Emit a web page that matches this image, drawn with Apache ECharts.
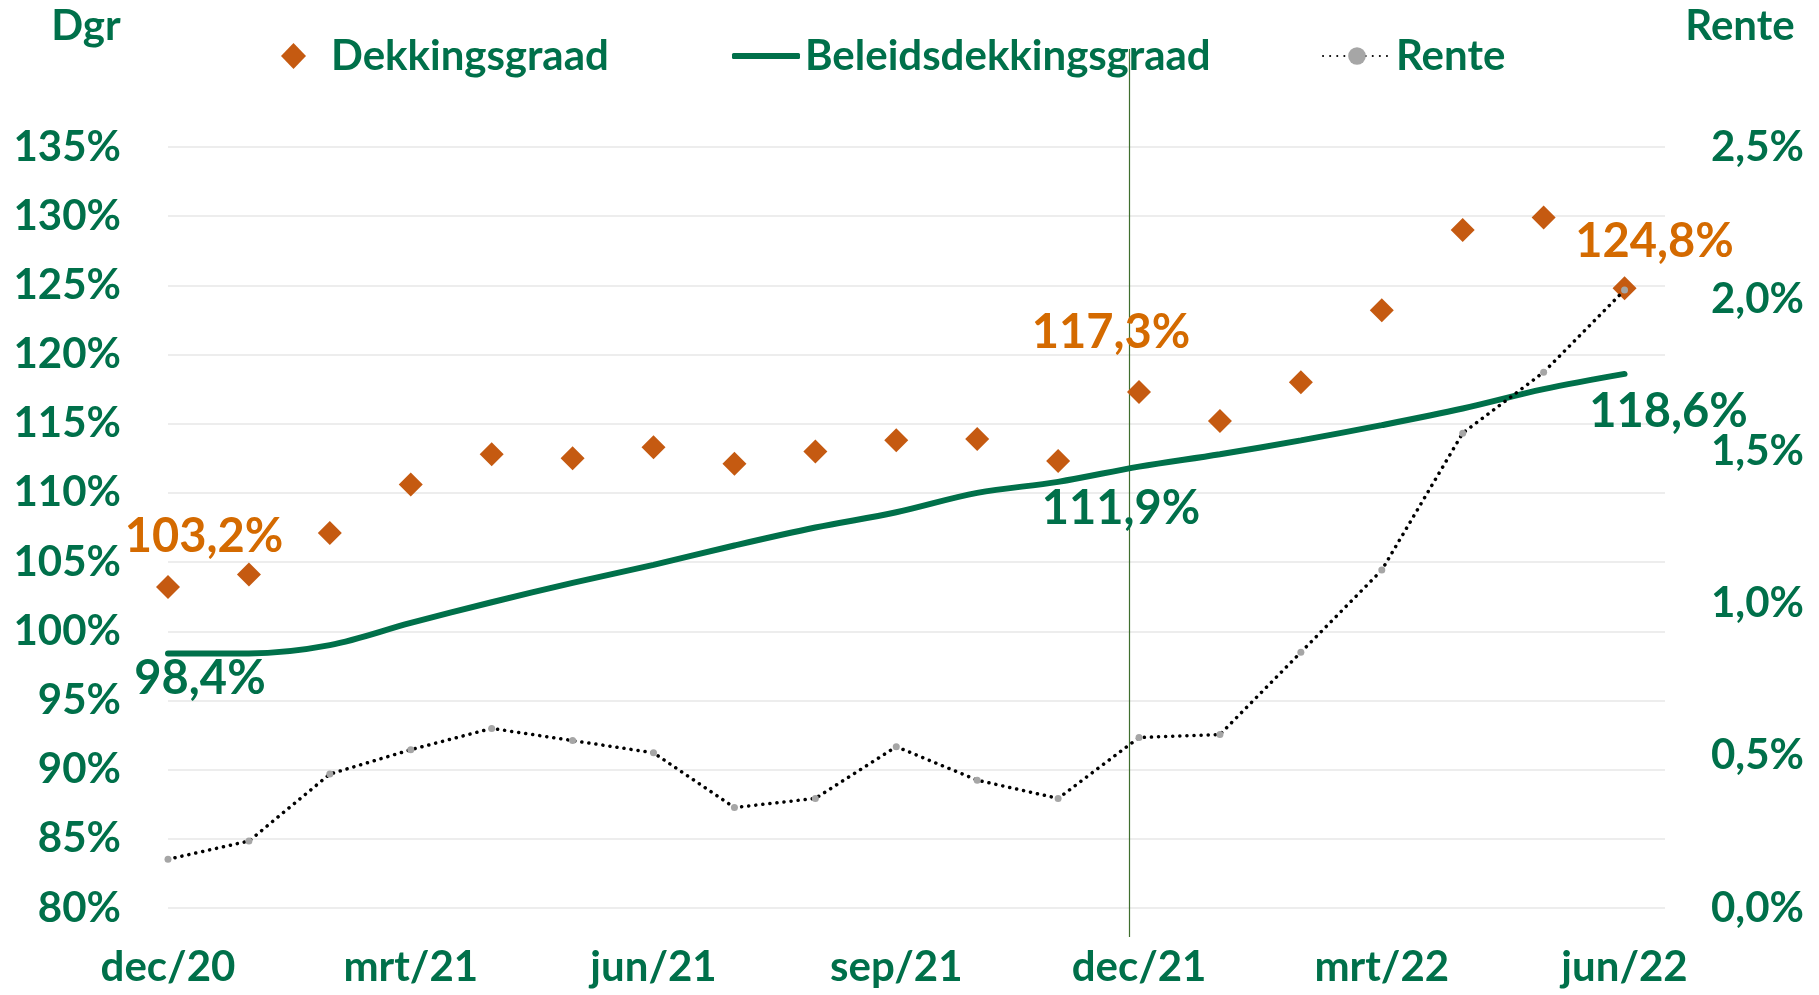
<!DOCTYPE html>
<html lang="nl">
<head>
<meta charset="UTF-8">
<title>Dekkingsgraad</title>
<script src="https://cdn.jsdelivr.net/npm/echarts@6/dist/echarts.min.js"></script>
<style>html,body{margin:0;padding:0;background:#fff;}</style>
</head>
<body>
<div id="main" style="width:1819px;height:995px;"></div>
<script type="text/javascript">
// maanden (x-as), waarden
var maanden = ['dec/20','jan/21','feb/21','mrt/21','apr/21','mei/21','jun/21','jul/21','aug/21','sep/21','okt/21','nov/21',
               'dec/21','jan/22','feb/22','mrt/22','apr/22','mei/22','jun/22'];
var dekkingsgraad = [103.2,104.1,107.1,110.6,112.8,112.5,113.3,112.1,113.0,113.8,113.9,112.3,117.3,115.2,118.0,123.2,129.0,129.9,124.8];
var beleidsdekkingsgraad = [98.4,98.4,99.0,100.6,102.1,103.5,104.8,106.2,107.5,108.6,110.0,110.8,111.9,112.8,113.8,114.9,116.1,117.5,118.6];
var rente = [0.16,0.22,0.44,0.52,0.59,0.55,0.51,0.33,0.36,0.53,0.42,0.36,0.56,0.57,0.84,1.11,1.56,1.76,2.03];
var gelabeld = [0, 12, 18];   // punten met een waardelabel
var markering = 11.88;        // verticale lijn net voor dec/21

var groen = '#00704A';
var oranje = '#C55A11';
var oranjeTekst = '#D46A00';
var font = 'Lato';

var myChart = echarts.init(document.getElementById('main'));

function fmt(v) { return v.toFixed(1).replace('.', ',') + '%'; }

var dgrOffsets = {0: [36, -10], 12: [-28, -19], 18: [30, -6]};
var bdgOffsets = {0: [32, -4], 12: [-18, 13], 18: [44, 8]};

function maakData(arr, offsets, pos, kleur) {
    return arr.map(function (v, i) {
        var item = {value: [i, v]};
        if (gelabeld.indexOf(i) >= 0) {
            item.label = {
                show: true, position: pos, offset: offsets[i],
                formatter: function (p) { return fmt(p.value[1]); },
                color: kleur, fontFamily: font, fontWeight: 'bold', fontSize: 47
            };
        }
        return item;
    });
}

var legendText = {color: groen, fontFamily: font, fontWeight: 'bold', fontSize: 42};

option = {
    animation: false,
    backgroundColor: '#fff',
    grid: {left: 168, right: 154, top: 147, bottom: 87},
    legend: [
        {data: [{name: 'Dekkingsgraad', icon: 'diamond'}], left: 276, top: 30, itemWidth: 25, itemHeight: 26,
            textStyle: Object.assign({padding: [0, 0, 0, 20]}, legendText)},
        {data: [{name: 'Beleidsdekkingsgraad', icon: 'roundRect'}], left: 727, top: 30, itemWidth: 68, itemHeight: 6,
            textStyle: legendText},
        {data: ['Rente'], left: 1317, top: 30, itemWidth: 68, itemHeight: 22, textStyle: legendText}
    ],
    xAxis: {
        type: 'value', min: 0, max: 18.5, interval: 3,
        axisLine: {show: false}, axisTick: {show: false}, splitLine: {show: false},
        axisLabel: {
            margin: 38, color: groen, fontFamily: font, fontWeight: 'bold', fontSize: 42,
            formatter: function (v) { return Number.isInteger(v) && maanden[v] ? maanden[v] : ''; }
        }
    },
    yAxis: [
        {
            type: 'value', min: 80, max: 135, interval: 5,
            name: 'Dgr', nameLocation: 'end', nameGap: 100,
            nameTextStyle: {color: groen, fontFamily: font, fontWeight: 'bold', fontSize: 42, align: 'center', padding: [0, 164, 0, 0]},
            axisLine: {show: false}, axisTick: {show: false},
            splitLine: {lineStyle: {color: '#EDEDED', width: 2}},
            axisLabel: {margin: 47, color: groen, fontFamily: font, fontWeight: 'bold', fontSize: 42,
                formatter: function (v) { return v + '%'; }}
        },
        {
            type: 'value', min: 0, max: 2.5, interval: 0.5,
            name: 'Rente', nameLocation: 'end', nameGap: 100,
            nameTextStyle: {color: groen, fontFamily: font, fontWeight: 'bold', fontSize: 42, align: 'center', padding: [0, 0, 0, 150]},
            axisLine: {show: false}, axisTick: {show: false}, splitLine: {show: false},
            axisLabel: {margin: 46, color: groen, fontFamily: font, fontWeight: 'bold', fontSize: 42,
                formatter: function (v) { return fmt(v); }}
        }
    ],
    series: [
        {
            name: 'Beleidsdekkingsgraad', type: 'line', yAxisIndex: 0,
            data: maakData(beleidsdekkingsgraad, bdgOffsets, 'bottom', groen),
            smooth: 0.35, showSymbol: true, symbol: 'circle', symbolSize: 2,
            itemStyle: {color: groen},
            lineStyle: {color: groen, width: 6, cap: 'round'}
        },
        {
            name: 'Dekkingsgraad', type: 'scatter', yAxisIndex: 0,
            data: maakData(dekkingsgraad, dgrOffsets, 'top', oranjeTekst),
            symbol: 'diamond', symbolSize: 24,
            itemStyle: {color: oranje, opacity: 1}
        },
        {
            name: 'Rente', type: 'line', yAxisIndex: 1,
            data: rente.map(function (v, i) { return [i, v]; }),
            symbol: 'circle', symbolSize: 7,
            itemStyle: {color: '#A6A6A6', borderWidth: 0},
            lineStyle: {color: '#000', width: 3.5, type: [0.1, 7], cap: 'round'}
        }
    ]
};

myChart.setOption(option);

// dunne verticale lijn bij dec/21, loopt door tot in de legenda
var lx = Math.round(myChart.convertToPixel({xAxisIndex: 0}, markering)) + 0.5;
myChart.setOption({
    graphic: [{
        type: 'line', z: 0, silent: true,
        shape: {x1: lx, y1: 49, x2: lx, y2: 937},
        style: {stroke: '#3F6E2E', lineWidth: 1.2}
    }]
});
</script>
</body>
</html>
